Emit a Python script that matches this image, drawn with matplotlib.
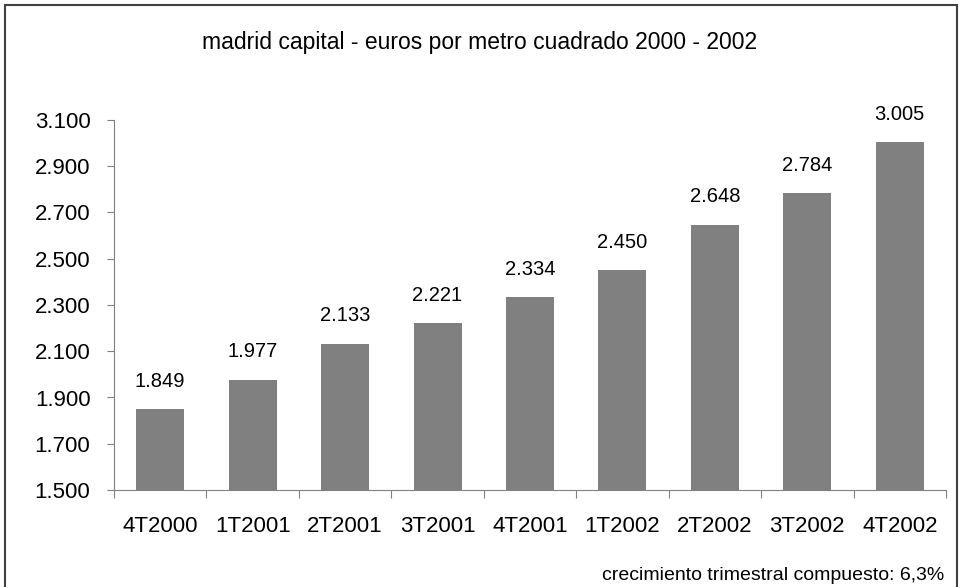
import matplotlib.pyplot as plt
from matplotlib.patches import Rectangle

plt.rcParams['font.family'] = ['Liberation Sans', 'DejaVu Sans']

quarters = ['4T2000', '1T2001', '2T2001', '3T2001', '4T2001',
            '1T2002', '2T2002', '3T2002', '4T2002']
prices = [1849, 1977, 2133, 2221, 2334, 2450, 2648, 2784, 3005]
yticks = [1500, 1700, 1900, 2100, 2300, 2500, 2700, 2900, 3100]


def fmt(v):
    # spanish thousands separator
    return f'{v:,}'.replace(',', '.')


fig = plt.figure(figsize=(9.6, 5.87), dpi=100)
ax = fig.add_axes([114 / 960, 1 - 490 / 587, 832 / 960, 370 / 587])

x = range(len(quarters))
ax.bar(x, prices, width=0.52, color='#808080', zorder=2)
for i, v in zip(x, prices):
    ax.annotate(fmt(v), (i, v), xytext=(0, 20), textcoords='offset points',
                ha='center', va='center', fontsize=14.5)

ax.set_xlim(-0.5, len(quarters) - 0.5)
ax.set_ylim(1500, 3100)
ax.set_yticks(yticks)
ax.set_yticklabels([fmt(t) for t in yticks], fontsize=16)
ax.set_xticks([i - 0.5 for i in range(len(quarters) + 1)])
ax.set_xticklabels([])
ax.set_xticks(list(x), minor=True)
ax.set_xticklabels(quarters, minor=True, fontsize=16)
ax.tick_params(axis='x', which='major', length=6, direction='out', color='#808080')
ax.tick_params(axis='x', which='minor', length=0, pad=19)
ax.tick_params(axis='y', length=5, direction='out', color='#808080', pad=12)

for s in ['top', 'right']:
    ax.spines[s].set_visible(False)
for s in ['left', 'bottom']:
    ax.spines[s].set_color('#808080')

fig.text(0.5, 1 - 43 / 587, 'madrid capital - euros por metro cuadrado 2000 - 2002',
         ha='center', va='center', fontsize=16.5)
fig.text(944 / 960, 1 - 575 / 587, 'crecimiento trimestral compuesto: 6,3%',
         ha='right', va='center', fontsize=14)

fig.patches.append(Rectangle((5 / 960, -0.05), 952 / 960, 1 - 5 / 587 + 0.05,
                             transform=fig.transFigure, fill=False,
                             edgecolor='#404040', linewidth=1.5))

fig.savefig('out.png', dpi=100)
